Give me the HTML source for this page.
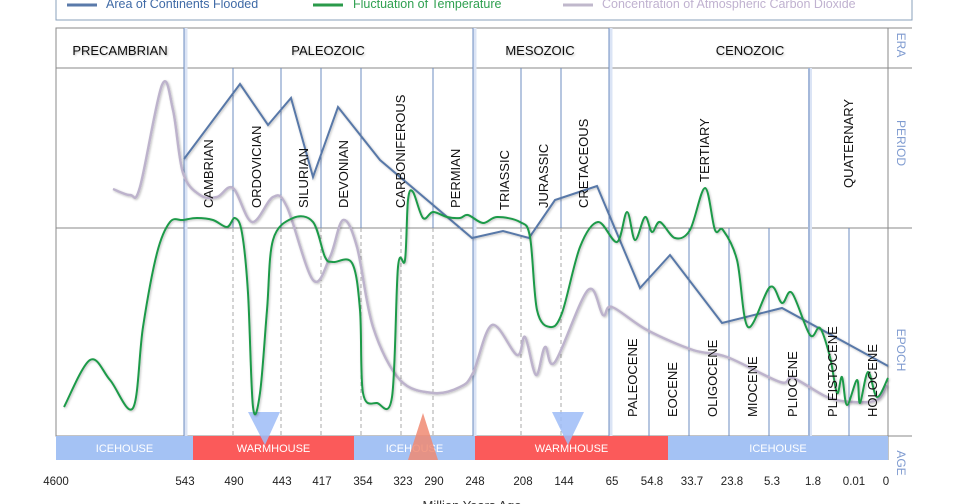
<!DOCTYPE html>
<html><head><meta charset="utf-8">
<style>
html,body{margin:0;padding:0;background:#fff;}
svg{display:block;font-family:"Liberation Sans Narrow","Liberation Sans",sans-serif;}
</style></head>
<body>
<svg id="chart" width="960" height="504" viewBox="0 0 960 504" xmlns="http://www.w3.org/2000/svg">
<defs>
<filter id="sh" x="-10%" y="-10%" width="120%" height="120%"><feDropShadow dx="1" dy="1" stdDeviation="1" flood-color="#000" flood-opacity="0.25"/></filter>
</defs>
<!-- legend -->
<g>
<rect x="56" y="-10" width="856" height="30" fill="#fff" stroke="#8aa0bb" stroke-width="1"/>
<g><line x1="67" y1="5" x2="97" y2="5" stroke="#5a7aaa" stroke-width="3"/><text x="106" y="8" font-size="12.5" fill="#3f6aa6">Area of Continents Flooded</text></g>
<g><line x1="313" y1="5" x2="343" y2="5" stroke="#2a9a4a" stroke-width="3"/><text x="353" y="8" font-size="12.5" fill="#2fa050">Fluctuation of Temperature</text></g>
<g><line x1="563" y1="5" x2="593" y2="5" stroke="#c0b8cc" stroke-width="3"/><text x="602" y="8" font-size="12.5" fill="#c0b2d0">Concentration of Atmospheric Carbon Dioxide</text></g>
</g>
<g id="grid"></g>
<g id="age"></g>
<g id="series"></g>
<g id="labels"></g>
<g id="ticks"></g>
<text x="472" y="510" text-anchor="middle" font-size="13" fill="#333">Million Years Ago</text>
</svg>
<script>
// timeline units: u in [0,208], value v in [0,92]
const tickLabels=["4600","543","490","443","417","354","323","290","248","208","144","65","54.8","33.7","23.8","5.3","1.8","0.01","0"];
const tickPos=[0,32.25,44.5,56.5,66.5,76.75,86.75,94.5,104.75,116.75,127,139,149,159,169,179,189.25,199.5,207.5];
const floodedU=[32,46,53,58.75,64.25,70.5,81,104,111.75,118.25,124.75,135.25,146,153.5,166.5,181.5,208];
const floodedV=[69.25,88,77.75,84.5,64.75,82.25,69,49.5,51.25,49.5,59,62.5,37,45.25,28.25,32,17.5];
const co2U=[14.25,18.5,21,26.5,29.25,31.75,36,40.25,44.25,49,54.25,57.75,64.25,68.5,71.75,75.25,79.25,86,94.25,101,104.25,109,115.25,117.25,120,122.25,124.75,133,136.75,139,147.75,159.25,167.75,181,184.25,192.75,199.25,205.25,207.75];
const co2V=[61.75,60.25,62.25,87.75,81.5,65.75,60.25,59.75,62,53.5,59.75,57.25,39,44.75,54,47.25,27.25,14,10.75,12.25,15.75,27.75,20.25,24.75,15.25,22.25,18.5,36.5,30.25,32.25,26.5,21.5,19.75,13.5,14.5,9.75,8.5,9,12.75];
const tempU=[2,8.5,13.5,19.25,21.75,25.25,28.5,31.75,35.25,39.25,42.75,44.75,46.5,48,49.25,51,52.75,54.25,59.25,64.25,67.25,69.25,74,76,76.75,80.25,84,85.5,87.25,88,89.25,91.75,94.25,97.75,101,103,106.75,110.25,116,118.5,120.25,123.5,126.5,131,135.5,140.25,142.75,144.75,147.25,149,151,154.75,158.5,162.25,164.75,166.75,170.25,173,178.5,181.5,184,188.5,191,193.5,195.25,196.5,197.75,200.25,201,203,205.25,208];
const tempV=[7.25,19,14,7,27.25,45.75,53.5,54,54.5,54,52.25,54.5,50.75,35.75,7.25,10.75,31.5,49,54.5,53.5,44.75,43.5,43.25,31.5,10.75,8.25,9.75,42.25,44,59,61,54.5,56,54.75,54.5,55.25,53.25,54.75,53.5,49.75,31.5,27.25,30.75,47.25,53.5,48.5,56,49,54.75,51,53.5,49.5,51.5,62,51.5,51.5,44,27.25,37.25,33.25,35.75,25.25,27,19.75,10.75,14.75,7.75,14,8.25,16,9.75,14.5];
const eras=["PRECAMBRIAN","PALEOZOIC","MESOZOIC","CENOZOIC"];
const eraCenter=[120,328,540,750];
const periods=["CAMBRIAN","ORDOVICIAN","SILURIAN","DEVONIAN","CARBONIFEROUS","PERMIAN","TRIASSIC","JURASSIC","CRETACEOUS","TERTIARY","QUATERNARY"];
const periodX=[208,256,303,343,400,455,504,543,583,704,848];
const periodBottom=[208,208,208,208,208,208,210,208,208,182,188];
const epochs=["PALEOCENE","EOCENE","OLIGOCENE","MIOCENE","PLIOCENE","PLEISTOCENE","HOLOCENE"];
const epochX=[632,672,712,752,792,832,872];

const X=u=>56+u*4, Y=v=>436-v*4;
const NS="http://www.w3.org/2000/svg";
function mk(tag,attrs,parent){const e=document.createElementNS(NS,tag);for(const k in attrs)e.setAttribute(k,attrs[k]);parent.appendChild(e);return e;}
const grid=document.getElementById('grid');
// frame
mk('rect',{x:56,y:28,width:832,height:408,fill:'none',stroke:'#888','stroke-width':1},grid);
[28,68,228,436].forEach(y=>mk('line',{x1:56,y1:y,x2:912,y2:y,stroke:'#8a8a8a','stroke-width':1},grid));
// era lines with glow
[184,473,609].forEach(x=>{mk('line',{x1:x+1.5,y1:28,x2:x+1.5,y2:460,stroke:'#dbe4f5','stroke-width':4},grid);mk('line',{x1:x,y1:28,x2:x,y2:460,stroke:'#6d8cc0','stroke-width':1},grid);});
[233,281,321,361,433,521,561].forEach(x=>{mk('line',{x1:x,y1:68,x2:x,y2:228,stroke:'#6d8cc0','stroke-width':1},grid);mk('line',{x1:x,y1:228,x2:x,y2:460,stroke:'#aaa','stroke-width':1,'stroke-dasharray':'4,3'},grid);});
mk('line',{x1:401,y1:228,x2:401,y2:460,stroke:'#aaa','stroke-width':1,'stroke-dasharray':'4,3'},grid);
mk('line',{x1:810,y1:68,x2:810,y2:460,stroke:'#dbe4f5','stroke-width':4},grid);
mk('line',{x1:809,y1:68,x2:809,y2:460,stroke:'#6d8cc0','stroke-width':1},grid);
[649,689,729,769,849].forEach(x=>mk('line',{x1:x,y1:228,x2:x,y2:460,stroke:'#6d8cc0','stroke-width':1},grid));
mk('line',{x1:888,y1:28,x2:888,y2:460,stroke:'#888','stroke-width':1},grid);
// age bar
const age=document.getElementById('age');
const segs=[[56,193,'#a4c2f4','ICEHOUSE'],[193,354,'#fb5a5a','WARMHOUSE'],[354,475,'#a4c2f4','ICEHOUSE'],[475,668,'#fb5a5a','WARMHOUSE'],[668,888,'#a4c2f4','ICEHOUSE']];
segs.forEach(s=>{const r=mk('rect',{x:s[0],y:436,width:s[1]-s[0],height:24,fill:s[2]},age);


const t=mk('text',{x:(s[0]+s[1])/2,y:452,'text-anchor':'middle','font-size':11,fill:'#fff'},age);t.textContent=s[3];});
// triangles
mk('polygon',{points:'248,412 280,412 265,445',fill:'#9ebcf7',opacity:0.85},age);
mk('polygon',{points:'552,412 584,412 568,445',fill:'#9ebcf7',opacity:0.85},age);
mk('polygon',{points:'408,460 438,460 423,413',fill:'#f08a72',opacity:0.85},age);
// series
const ser=document.getElementById('series');
function smooth(us,vs){const p=us.map((u,i)=>[X(u),Y(vs[i])]);let d='M'+p[0][0]+','+p[0][1];
for(let i=0;i<p.length-1;i++){const p0=p[i-1]||p[i],p1=p[i],p2=p[i+1],p3=p[i+2]||p2;const t=6;
d+=` C${p1[0]+(p2[0]-p0[0])/t},${p1[1]+(p2[1]-p0[1])/t} ${p2[0]-(p3[0]-p1[0])/t},${p2[1]-(p3[1]-p1[1])/t} ${p2[0]},${p2[1]}`;}return d;}
const co2=mk('path',{d:smooth(co2U,co2V),fill:'none',stroke:'#bdb3cc','stroke-width':2.5,filter:'url(#sh)'},ser);


const fl=mk('path',{d:'M'+floodedU.map((u,i)=>X(u)+','+Y(floodedV[i])).join(' L'),fill:'none',stroke:'#5878a8','stroke-width':2,filter:'url(#sh)'},ser);


const tp=mk('path',{d:smooth(tempU,tempV),fill:'none',stroke:'#1f9a48','stroke-width':2,filter:'url(#sh)'},ser);


// labels
const lab=document.getElementById('labels');
eras.forEach((e,i)=>{const t=mk('text',{x:eraCenter[i],y:55,'text-anchor':'middle','font-size':13,fill:'#111',filter:'url(#sh)'},lab);t.textContent=e;

});
periods.forEach((p,i)=>{const t=mk('text',{x:0,y:0,'font-size':13,fill:'#111',transform:`translate(${periodX[i]+5},${periodBottom[i]}) rotate(-90)`},lab);t.textContent=p;

});
epochs.forEach((p,i)=>{const t=mk('text',{x:0,y:0,'font-size':13,fill:'#111',transform:`translate(${epochX[i]+5},417) rotate(-90)`},lab);t.textContent=p;

});
[['ERA',45],['PERIOD',143],['EPOCH',350],['AGE',463]].forEach(r=>{const t=mk('text',{x:0,y:0,'font-size':12,fill:'#7f9bd0','text-anchor':'middle',transform:`translate(897,${r[1]}) rotate(90)`},lab);t.textContent=r[0];

});
// ticks
const tk=document.getElementById('ticks');
tickLabels.forEach((l,i)=>{const t=mk('text',{x:X(tickPos[i]),y:485,'text-anchor':'middle','font-size':11.5,fill:'#222'},tk);t.textContent=l;

});
</script>
</body></html>
